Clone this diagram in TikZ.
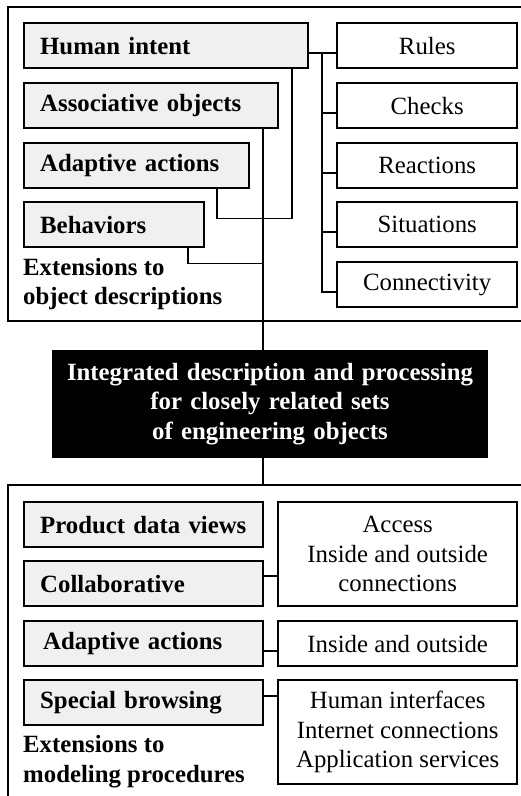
\documentclass[tikz,border=0pt]{standalone}
\usepackage{fontspec}
\setmainfont{Liberation Serif}
\newcommand\bigf{\fontsize{24.8}{29.5}\selectfont}
\definecolor{gfill}{HTML}{F0F0F0}
\begin{document}
\begin{tikzpicture}[x=1pt,y=-1pt,
  gbox/.style={draw, line width=2.4pt, fill=gfill, anchor=north west, inner xsep=16pt, inner ysep=0pt, align=left, font=\bigf\bfseries, minimum height=45pt},
  wbox/.style={draw, line width=2.4pt, fill=white, anchor=north west, inner sep=0pt, align=center, font=\bigf},
  cbox/.style={draw, line width=1pt, fill=black, text=white, anchor=north west, inner sep=0pt, align=center, font=\bigf\bfseries},
  lbl/.style={anchor=west, align=left, inner sep=0pt, font=\bigf\bfseries},
  frame/.style={line width=2.2pt},
  conn/.style={line width=1.6pt}]
\useasboundingbox (0,0) rectangle (521,796);

% frames
\coordinate (toptop) at (8,7);
\coordinate (bottop) at (8,485);
\draw[frame] (530,7) -- (toptop) -- (8,321) -- (530,321);
\draw[frame] (530,485) -- (bottop) -- (8,805);

% top left boxes
\node[gbox, text width=252pt] (hi) at (23,22) {Human intent};
\node[gbox, text width=222pt] (ao) at (23,82) {Associative objects};
\node[gbox, text width=193pt] (aa) at (23,142) {Adaptive actions};
\node[gbox, text width=148pt] (beh) at (23,201) {Behaviors};
\node[lbl] (ext1) at (23,284) {Extensions to\\object descriptions};

% top right boxes
\node[wbox, minimum width=180pt, minimum height=45pt] (rules) at (336,22) {Rules};
\node[wbox, minimum width=180pt, minimum height=45pt] (checks) at (336,82) {Checks};
\node[wbox, minimum width=180pt, minimum height=45pt] (reactions) at (336,142) {Reactions};
\node[wbox, minimum width=180pt, minimum height=45pt] (situations) at (336,201) {Situations};
\node[wbox, minimum width=180pt, minimum height=45pt] (connectivity) at (336,261) {Connectivity};

% central box
\node[cbox, minimum width=435pt, minimum height=107pt, text width=435pt] (cb) at (52,350)
  {Integrated description and processing\\for closely related sets\\of engineering objects};

% bottom left boxes
\node[gbox, text width=207pt] (pdv) at (23,501) {Product data views};
\node[gbox, text width=207pt] (col) at (23,560) {Collaborative};
\node[gbox, inner xsep=19pt, text width=201pt] (aa2) at (23,620) {Adaptive actions};
\node[gbox, text width=207pt] (sb) at (23,679) {Special browsing};
\node[lbl] (ext2) at (23,761.5) {Extensions to\\modeling procedures};

% bottom right boxes
\node[wbox, minimum width=239pt, minimum height=104pt] (access) at (277,501) {Access\\Inside and outside\\connections};
\node[wbox, minimum width=239pt, minimum height=45pt] (inout) at (277,620) {Inside and outside};
\node[wbox, minimum width=239pt, minimum height=104pt] (hif) at (277,679) {Human interfaces\\Internet connections\\Application services};

% top connectors
\draw[conn] ([yshift=-7pt]hi.east) -- ([yshift=-7pt]rules.west);
\draw[conn] ([yshift=-7pt]connectivity.west) -- ++(-14,0) |- ([yshift=-7pt]rules.west);
\foreach \n in {checks,reactions,situations}
  \draw[conn] ([yshift=-7pt]\n.west) -- ++(-14,0);
\draw[conn] ([xshift=269pt]hi.south west) -- ++(0,149) -| ([xshift=194pt]aa.south west);
\path ([xshift=240pt]ao.south west) coordinate (aoc);
\draw[conn] (aoc) -- (aoc |- cb.north);
\draw[conn] ([xshift=165pt]beh.south west) -- ++(0,15) coordinate (bc) -- (bc -| aoc);
\draw[conn] (aoc |- cb.south) -- (aoc |- bottop);

% bottom connectors
\path ([yshift=8pt]col.east) coordinate (c1);
\draw[conn] (c1) -- (c1 -| access.west);
\path ([yshift=-7.5pt]aa2.east) coordinate (c2);
\draw[conn] (c2) -- (c2 -| inout.west);
\path ([yshift=7pt]sb.east) coordinate (c3);
\draw[conn] (c3) -- (c3 -| hif.west);
\end{tikzpicture}
\end{document}
